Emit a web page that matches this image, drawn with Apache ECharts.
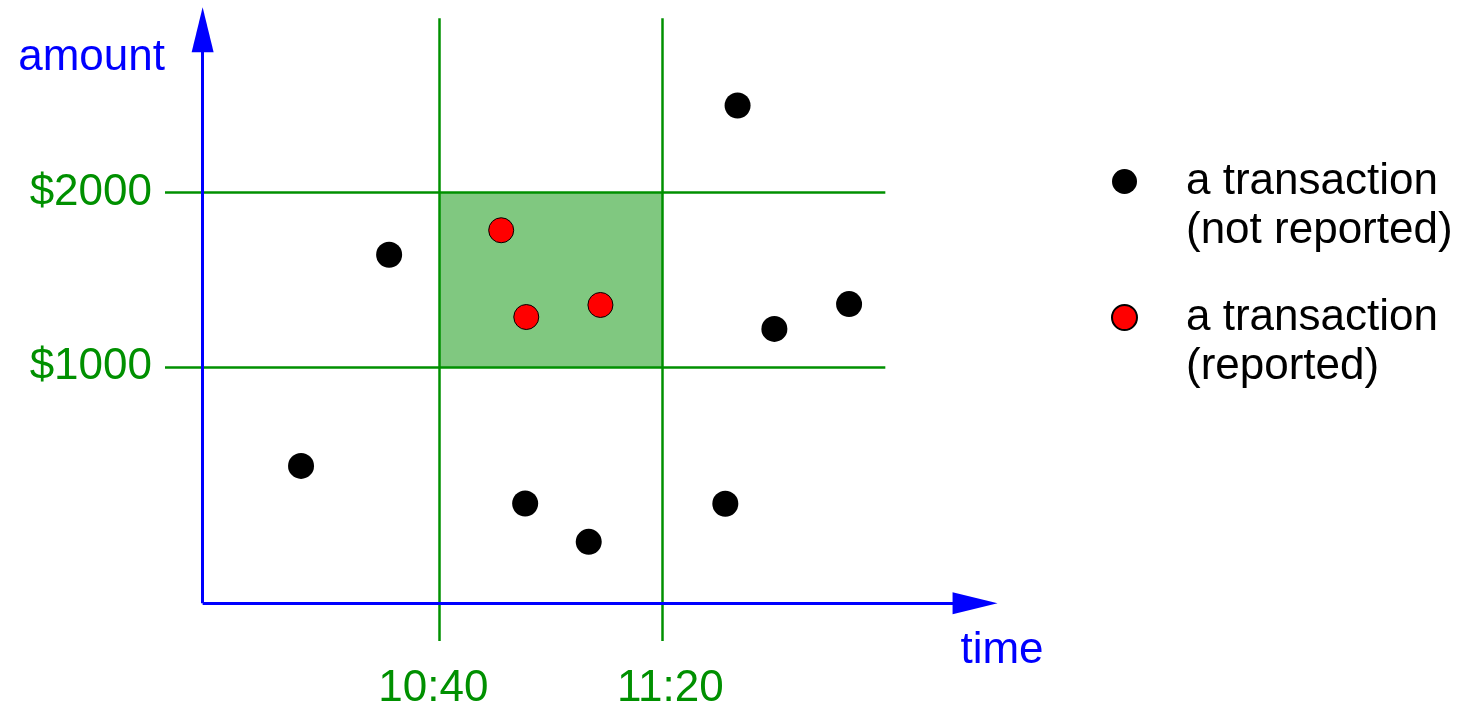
<!DOCTYPE html>
<html lang="en">
<head>
<meta charset="UTF-8" />
<title>Reported transactions</title>
<script src="https://cdn.jsdelivr.net/npm/echarts@6/dist/echarts.min.js"></script>
<style>
    html, body { margin: 0; padding: 0; background: #fff; }
    #chart { width: 1477px; height: 706px; }
</style>
</head>
<body>
<div id="chart"></div>
<script>
// time = minutes after 10:00, amount = dollars
var notReportedTime = [93.5, 31.0, 15.2, 55.4, 66.8, 91.3, 100.1, 113.5];
var notReportedAmount = [2500, 1645, 435, 220, 0, 218, 1220, 1362];
var reportedTime = [51.1, 55.6, 68.9];
var reportedAmount = [1785, 1288, 1357];

var timeTicks = [40, 80];
var timeTickLabels = ['10:40', '11:20'];
var amountTicks = [1000, 2000];
var amountTickLabels = ['$1000', '$2000'];

var seriesNames = ['not reported', 'reported'];

// visible extent of the drawing
var X_MIN = -9.2, X_MAX = 140.3;
var Y_MIN = -568, Y_MAX = 3064;
var ORIGIN = [-2.45, -352];
var AXIS_END = [136.1, 2934];
var GUIDE_X_END = 120;
var GUIDE_Y_END = 3000;

var GREEN = '#009000';
var BLUE = '#0000ff';
var FONT = 'Liberation Sans, Arial, sans-serif';

function pairs(xs, ys) {
    return xs.map(function (x, i) { return [x, ys[i]]; });
}

var chart = echarts.init(document.getElementById('chart'));

var guideLines = [];
timeTicks.forEach(function (t) {
    guideLines.push([{ coord: [t, Y_MIN] }, { coord: [t, GUIDE_Y_END] }]);
});
amountTicks.forEach(function (a) {
    guideLines.push([{ coord: [X_MIN, a] }, { coord: [GUIDE_X_END, a] }]);
});

var option = {
    animation: false,
    grid: { left: 165, right: 478.5, top: 7, bottom: 65, outerBoundsMode: 'none' },
    xAxis: {
        type: 'value', min: X_MIN, max: X_MAX,
        axisLine: { show: false }, axisTick: { show: false }, splitLine: { show: false },
        axisLabel: {
            customValues: timeTicks,
            margin: 26,
            formatter: function (v) {
                var i = timeTicks.indexOf(v);
                return '{l' + i + '|' + timeTickLabels[i] + '}';
            },
            rich: {
                l0: { fontSize: 44, fontFamily: FONT, color: GREEN, padding: [0, 12, 0, 0] },
                l1: { fontSize: 44, fontFamily: FONT, color: GREEN, padding: [0, 0, 0, 16] }
            }
        }
    },
    yAxis: {
        type: 'value', min: Y_MIN, max: Y_MAX,
        axisLine: { show: false }, axisTick: { show: false }, splitLine: { show: false },
        axisLabel: {
            customValues: amountTicks,
            margin: 13,
            padding: [4, 0, 0, 0],
            fontSize: 44, fontFamily: FONT, color: GREEN,
            formatter: function (v) { return amountTickLabels[amountTicks.indexOf(v)]; }
        }
    },
    legend: {
        data: seriesNames,
        orient: 'vertical',
        left: 1111, top: 108,
        padding: 0,
        itemGap: -11,
        itemWidth: 25, itemHeight: 25,
        icon: 'circle',
        selectedMode: false,
        // leading empty line puts the marker beside the first text line
        formatter: function (name) { return '\na transaction\n(' + name + ')'; },
        textStyle: { fontSize: 44, lineHeight: 49, fontFamily: FONT, color: '#000', padding: [0, 0, 0, 44] }
    },
    graphic: [
        { type: 'text', x: 165, y: 58, silent: true,
          style: { text: 'amount', align: 'right', verticalAlign: 'middle', font: '44px ' + FONT, fill: BLUE } },
        { type: 'text', x: 1002, y: 651, silent: true,
          style: { text: 'time', align: 'center', verticalAlign: 'middle', font: '44px ' + FONT, fill: BLUE } }
    ],
    series: [
        {
            type: 'line', data: [], z: 0, silent: true,
            markArea: {
                silent: true,
                itemStyle: { color: '#80c880', opacity: 1 },
                data: [[{ xAxis: timeTicks[0], yAxis: amountTicks[0] }, { xAxis: timeTicks[1], yAxis: amountTicks[1] }]]
            }
        },
        {
            type: 'line', data: [], z: 1, silent: true,
            markLine: {
                silent: true, symbol: ['none', 'none'],
                label: { show: false },
                lineStyle: { color: GREEN, width: 2.5, type: 'solid' },
                data: guideLines
            }
        },
        {
            type: 'line', data: [], z: 2, silent: true,
            markLine: {
                silent: true, symbol: ['none', 'none'],
                label: { show: false },
                lineStyle: { color: BLUE, width: 3, type: 'solid' },
                data: [
                    [{ coord: ORIGIN }, { coord: [AXIS_END[0], ORIGIN[1]] }],
                    [{ coord: ORIGIN }, { coord: [ORIGIN[0], AXIS_END[1]] }]
                ]
            }
        },
        {
            // arrow heads of the two axes
            type: 'scatter', z: 2, silent: true,
            symbol: 'triangle', symbolSize: [22, 45],
            itemStyle: { color: BLUE, opacity: 1 },
            data: [
                { value: [AXIS_END[0], ORIGIN[1]], symbolRotate: -90 },
                { value: [ORIGIN[0], AXIS_END[1]], symbolRotate: 0 }
            ]
        },
        {
            name: seriesNames[0], type: 'scatter', z: 3,
            symbol: 'circle', symbolSize: 26,
            itemStyle: { color: '#000', opacity: 1 },
            data: pairs(notReportedTime, notReportedAmount)
        },
        {
            name: seriesNames[1], type: 'scatter', z: 3,
            symbol: 'circle', symbolSize: 25,
            itemStyle: { color: '#ff0000', borderColor: '#000', borderWidth: 1, opacity: 1 },
            data: pairs(reportedTime, reportedAmount)
        }
    ]
};

chart.setOption(option);
window.addEventListener('resize', function () { chart.resize(); });
</script>
</body>
</html>
